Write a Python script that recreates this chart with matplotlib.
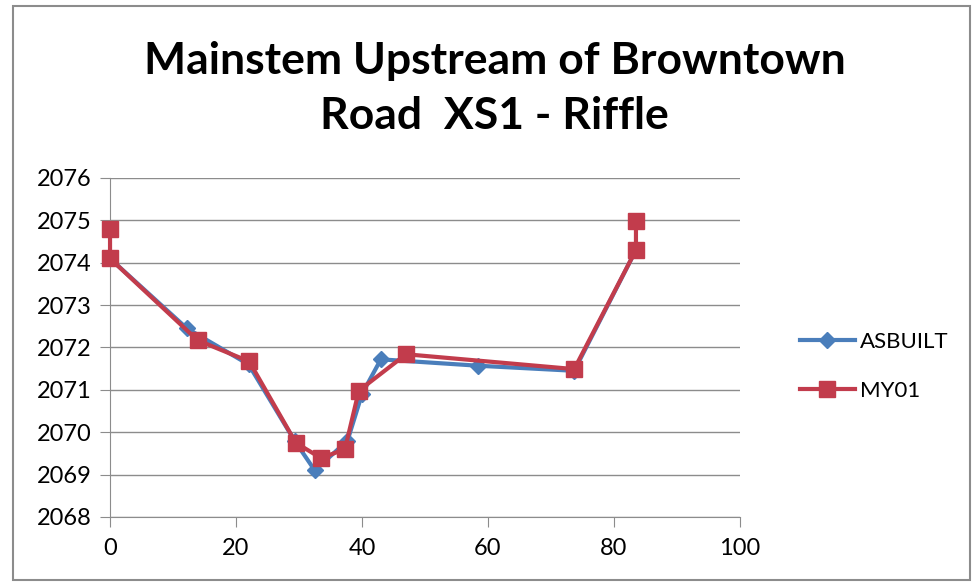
import matplotlib
matplotlib.use("Agg")
import matplotlib.pyplot as plt
from matplotlib.patches import Rectangle

plt.rcParams['font.family'] = ['Lato', 'DejaVu Sans']

# station (ft) and elevation (ft)
asbuilt_x = [0, 12.2, 22, 29.3, 32.5, 37.7, 40, 43, 58.4, 73.7, 83.5]
asbuilt_y = [2074.1, 2072.45, 2071.6, 2069.8, 2069.1, 2069.8, 2070.9, 2071.72, 2071.57, 2071.45, 2074.3]

my01_x = [0, 0, 13.9, 22.1, 29.5, 33.5, 37.3, 39.5, 47, 73.7, 83.5, 83.5]
my01_y = [2074.8, 2074.1, 2072.17, 2071.67, 2069.75, 2069.39, 2069.6, 2070.98, 2071.84, 2071.49, 2074.3, 2074.98]

x_ticks = [0, 20, 40, 60, 80, 100]
y_ticks = [2068, 2069, 2070, 2071, 2072, 2073, 2074, 2075, 2076]

blue = '#4A7EBB'
red = '#C23C4C'

fig = plt.figure(figsize=(9.72, 5.82), dpi=100)
ax = fig.add_axes([0.1132, 0.1117, 0.648, 0.5825])

ax.plot(asbuilt_x, asbuilt_y, color=blue, lw=3, marker='D', ms=8,
        mfc=blue, mec=blue, label='ASBUILT', zorder=3, clip_on=False)
ax.plot(my01_x, my01_y, color=red, lw=3, marker='s', ms=12,
        mfc=red, mec=red, label='MY01', zorder=4, clip_on=False)

ax.set_xlim(0, 100)
ax.set_ylim(2068, 2076)
ax.set_xticks(x_ticks)
ax.set_yticks(y_ticks)
ax.yaxis.grid(True, color='#8c8c8c', lw=1)
ax.set_axisbelow(True)
for s in ['top', 'right']:
    ax.spines[s].set_visible(False)
for s in ['left', 'bottom']:
    ax.spines[s].set_color('#8c8c8c')
ax.tick_params(axis='both', colors='#8c8c8c', labelcolor='black',
               labelsize=17, length=7, direction='out')
ax.tick_params(axis='y', pad=6)
ax.tick_params(axis='x', pad=8)

fig.text(0.509, 0.895, 'Mainstem Upstream of Browntown', ha='center', va='center',
         fontsize=32, fontweight='bold')
fig.text(0.509, 0.80, 'Road  XS1 - Riffle', ha='center', va='center',
         fontsize=32, fontweight='bold')

fig.legend(loc='center left', bbox_to_anchor=(0.802, 0.37), frameon=False,
           fontsize=16, handlelength=2.5, labelspacing=1.3, handletextpad=0.2)

fig.patches.append(Rectangle((0.013, 0.004), 0.985, 0.985, transform=fig.transFigure,
                             fill=False, ec='#8c8c8c', lw=1.5))

fig.savefig('out.png', dpi=100)
